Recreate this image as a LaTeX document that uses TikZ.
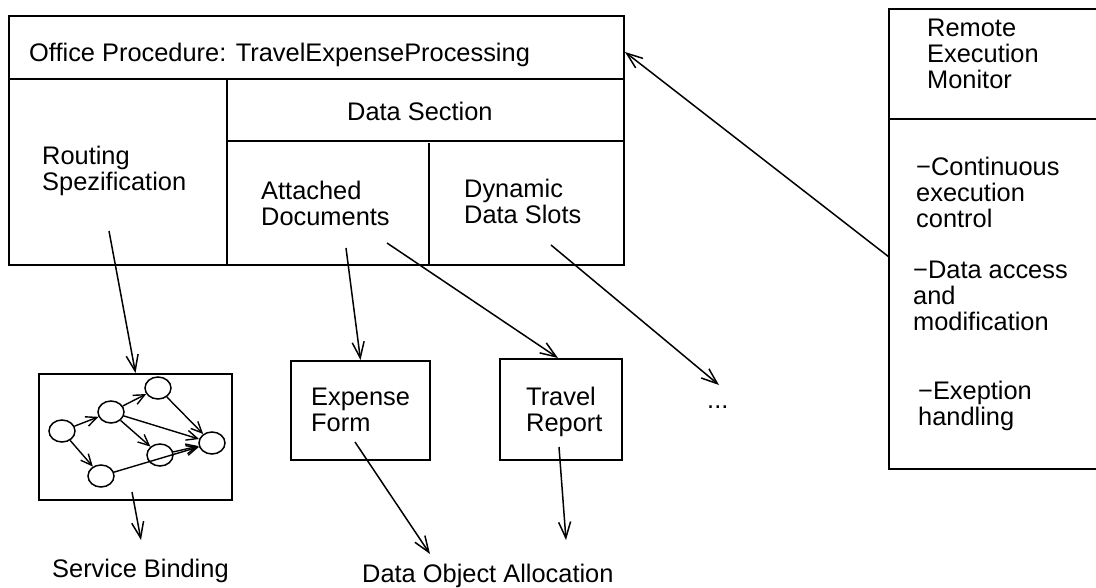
\documentclass[tikz,border=0pt]{standalone}
\usepackage{fontspec}
\setmainfont{Liberation Sans}
\usetikzlibrary{arrows.meta,shapes.geometric}

\begin{document}
\begin{tikzpicture}[x=1pt,y=-1pt,
  lbl/.style={font=\fontsize{25.4pt}{26pt}\selectfont, inner sep=0pt, anchor=base west},
  frame/.style={draw, line width=2pt, inner sep=0pt, anchor=north west},
  divider/.style={line width=2pt},
  conn/.style={line width=1.5pt, -{Straight Barb[length=16pt,width=12pt,line width=1.5pt]}},
  gnode/.style={draw, ellipse, line width=1.5pt, minimum width=26pt, minimum height=22pt, inner sep=0pt},
  gedge/.style={line width=1.4pt, -{Straight Barb[length=11pt,width=10pt,line width=1.4pt]}}]
\useasboundingbox (0,0) rectangle (1096,587);

% office procedure frame and its compartments
\node[frame, minimum width=615pt, minimum height=249pt] (proc) at (8,15) {};
\draw[divider] (8,79) -- (623,79);
\draw[divider] (227,79) -- (227,264);
\draw[divider] (227,141) -- (623,141);
\draw[divider] (429,143) -- (429,264);

\node[lbl] (title) at (29,61) {Office Procedure: TravelExpenseProcessing};
\node[lbl] (datasec) at (347,120) {Data Section};
\node[lbl] (routing) at (42,164) {\begin{tabular}[t]{@{}l@{}}Routing\\Spezification\end{tabular}};
\node[lbl] (attached) at (261,199) {\begin{tabular}[t]{@{}l@{}}Attached\\Documents\end{tabular}};
\node[lbl] (dynamic) at (464,197) {\begin{tabular}[t]{@{}l@{}}Dynamic\\Data Slots\end{tabular}};

% remote execution monitor, running off the right side
\node[inner sep=0pt, anchor=north west, minimum width=215pt, minimum height=460pt] (remote) at (889,9) {};
\draw[divider] (remote.north east) -- (remote.north west) -- (remote.south west) -- (remote.south east);
\draw[divider] (889,119) -- (1104,119);
\node[lbl, font=\fontsize{25.4pt}{25.5pt}\selectfont] (remtitle) at (927,36) {\begin{tabular}[t]{@{}l@{}}Remote\\Execution\\Monitor\end{tabular}};
\node[lbl] (cont) at (916,175) {\begin{tabular}[t]{@{}l@{}}−Continuous\\execution\\control\end{tabular}};
\node[lbl] (access) at (913,278) {\begin{tabular}[t]{@{}l@{}}−Data access\\and\\modification\end{tabular}};
\node[lbl] (exept) at (918,399) {\begin{tabular}[t]{@{}l@{}}−Exeption\\handling\end{tabular}};

% routing graph
\node[frame, minimum width=193pt, minimum height=126pt] (graph) at (38,373) {};
\node[gnode] (n1) at (62,431) {};
\node[gnode] (n2) at (111,412) {};
\node[gnode] (n3) at (158,388) {};
\node[gnode] (n4) at (160,455) {};
\node[gnode] (n5) at (212,443) {};
\node[gnode] (n6) at (101,476) {};
\draw[gedge] (n1) -- (n2);
\draw[gedge] (n2) -- (n3);
\draw[gedge] (n3) -- (n5);
\draw[gedge] (n2) -- (n5);
\draw[gedge] (n2) -- (n4);
\draw[gedge] (n4) -- (n5);
\draw[gedge] (n1) -- (n6);
\draw[gedge] (n6) -- (n5);

% document boxes
\node[frame, minimum width=139pt, minimum height=99pt] (expense) at (290,360) {};
\node[lbl] (expensetxt) at (311,405) {\begin{tabular}[t]{@{}l@{}}Expense\\Form\end{tabular}};
\node[frame, minimum width=122pt, minimum height=101pt] (travel) at (499,358) {};
\node[lbl] (traveltxt) at (526,405) {\begin{tabular}[t]{@{}l@{}}Travel\\Report\end{tabular}};

\node[lbl] (dots) at (707,408) {...};
\node[lbl] (binding) at (52,577) {Service Binding};
\node[lbl] (alloc) at (362,582) {Data Object Allocation};

% connector end points
\coordinate (r0) at (109,231);
\coordinate (g0) at (132,492);
\coordinate (sb) at (141,540);
\coordinate (a0) at (346,248);
\coordinate (a1) at (387,243);
\coordinate (d0) at (551,245);
\coordinate (dd) at (719,385);
\coordinate (e0) at (355,442);
\coordinate (ea) at (430,554);
\coordinate (t0) at (559,447);
\coordinate (ta) at (566,540);

\draw[conn] (r0) -- (graph.north);
\draw[conn] (g0) -- (sb);
\draw[conn] (a0) -- (expense.north);
\draw[conn] (a1) -- ([xshift=-3pt]travel.north);
\draw[conn] (d0) -- (dd);
\draw[conn] (e0) -- (ea);
\draw[conn] (t0) -- (ta);
\draw[conn] (remote.west |- 0,257) -- (proc.east |- 0,52);
\end{tikzpicture}
\end{document}
